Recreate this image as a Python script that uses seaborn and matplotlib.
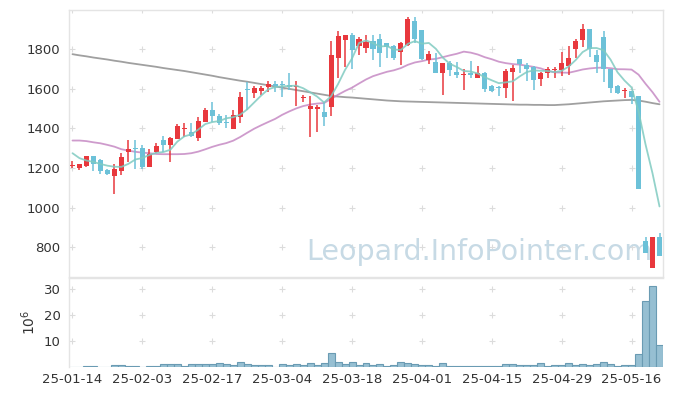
import numpy as np
import pandas as pd
import matplotlib
matplotlib.use("Agg")
import matplotlib.pyplot as plt
import seaborn as sns

# ---- data ----
opens = [1208, 1202, 1208, 1261, 1241, 1191, 1162, 1187, 1283, 1303,
         1302, 1207, 1283, 1342, 1317, 1349, 1396, 1384, 1354, 1435,
         1494, 1463, 1433, 1399, 1460, 1599, 1581, 1591, 1608, 1623,
         1620, 1618, 1608, 1556, 1497, 1497, 1485, 1510, 1758, 1847,
         1872, 1818, 1808, 1842, 1852, 1830, 1817, 1788, 1822, 1943,
         1897, 1746, 1736, 1682, 1729, 1686, 1669, 1680, 1657, 1682,
         1615, 1608, 1606, 1687, 1749, 1719, 1712, 1648, 1682, 1695,
         1695, 1716, 1800, 1847, 1901, 1771, 1864, 1699, 1615, 1589,
         1589, 1564, 832, 694, 851]
highs = [1238, 1222, 1263, 1263, 1248, 1196, 1221, 1275, 1342, 1342,
         1317, 1295, 1325, 1362, 1359, 1421, 1426, 1426, 1457, 1504,
         1531, 1473, 1467, 1494, 1586, 1632, 1616, 1615, 1640, 1640,
         1640, 1679, 1640, 1569, 1564, 1517, 1531, 1839, 1894, 1874,
         1884, 1864, 1872, 1872, 1876, 1832, 1820, 1834, 1965, 1965,
         1899, 1793, 1783, 1731, 1738, 1734, 1699, 1743, 1716, 1684,
         1617, 1612, 1699, 1721, 1751, 1729, 1716, 1687, 1712, 1709,
         1788, 1817, 1850, 1928, 1901, 1796, 1890, 1701, 1617, 1603,
         1591, 1566, 854, 854, 871]
lows = [1200, 1191, 1206, 1187, 1170, 1165, 1070, 1165, 1233, 1194,
        1194, 1205, 1278, 1283, 1229, 1349, 1359, 1359, 1339, 1435,
        1435, 1418, 1401, 1399, 1430, 1494, 1552, 1569, 1586, 1586,
        1561, 1595, 1515, 1531, 1356, 1384, 1413, 1463, 1653, 1712,
        1699, 1771, 1780, 1746, 1712, 1754, 1746, 1721, 1817, 1830,
        1745, 1724, 1680, 1569, 1665, 1653, 1595, 1657, 1653, 1586,
        1586, 1566, 1552, 1541, 1679, 1640, 1595, 1615, 1653, 1653,
        1665, 1670, 1754, 1813, 1763, 1682, 1637, 1578, 1574, 1552,
        1522, 1093, 770, 694, 756]
closes = [1213, 1221, 1261, 1221, 1187, 1170, 1194, 1258, 1297, 1298,
          1207, 1271, 1312, 1317, 1354, 1413, 1404, 1362, 1438, 1494,
          1463, 1430, 1430, 1468, 1557, 1596, 1605, 1605, 1623, 1615,
          1617, 1611, 1615, 1558, 1514, 1508, 1460, 1771, 1867, 1872,
          1797, 1850, 1837, 1800, 1783, 1813, 1758, 1830, 1953, 1850,
          1749, 1776, 1682, 1729, 1695, 1669, 1675, 1669, 1679, 1601,
          1591, 1603, 1690, 1704, 1726, 1701, 1645, 1679, 1699, 1699,
          1732, 1754, 1842, 1901, 1800, 1733, 1699, 1603, 1581, 1592,
          1561, 1093, 770, 851, 756]
volumes_m = [0.1, 0.1, 0.25, 0.25, 0.1, 0.1, 0.7, 0.7, 0.4, 0.4,
             0.1, 0.4, 0.4, 1.1, 1.1, 1.1, 0.4, 1.1, 1.1, 1.1,
             1.1, 1.5, 1.1, 0.7, 2.0, 1.1, 0.7, 0.7, 0.7, 0.1,
             1.1, 0.7, 1.1, 0.7, 1.5, 0.7, 1.5, 5.4, 2.0, 1.15,
             1.9, 0.77, 1.5, 0.9, 1.15, 0.38, 0.77, 2.05, 1.65, 1.15,
             0.77, 0.77, 0.38, 1.5, 0.38, 0.38, 0.38, 0.38, 0.38, 0.38,
             0.38, 0.38, 1.15, 1.15, 0.77, 0.77, 0.77, 1.5, 0.38, 0.77,
             0.77, 1.5, 0.77, 1.15, 0.77, 1.15, 1.9, 1.15, 0.38, 0.77,
             0.77, 5.0, 25.5, 31.2, 8.5]
# moving-average values before enough in-window history exists
ma5_head = [1275, 1250, 1238, 1231]
ma20_head = [1339, 1339, 1336, 1330, 1325, 1317, 1308, 1295, 1288, 1282,
             1278, 1275, 1271, 1270, 1270, 1270, 1271, 1275, 1283]
ma_long = [1775, 1769, 1764, 1758, 1753, 1748, 1742, 1737, 1731, 1726,
           1721, 1716, 1711, 1705, 1700, 1695, 1690, 1684, 1678, 1672,
           1666, 1659, 1653, 1647, 1641, 1636, 1630, 1624, 1618, 1612,
           1606, 1600, 1594, 1588, 1582, 1576, 1570, 1564, 1561, 1558,
           1556, 1553, 1550, 1547, 1544, 1541, 1539, 1537, 1536, 1535,
           1534, 1533, 1532, 1531, 1530, 1529, 1528, 1527, 1526, 1525,
           1524, 1523, 1522, 1521, 1520, 1520, 1519, 1519, 1518, 1518,
           1520, 1522, 1525, 1528, 1531, 1534, 1537, 1539, 1541, 1543,
           1544, 1541, 1535, 1528, 1522]
tick_labels = ['25-01-14', '25-02-03', '25-02-17', '25-03-04', '25-03-18',
               '25-04-01', '25-04-15', '25-04-29', '25-05-16']
price_ticks = [800, 1000, 1200, 1400, 1600, 1800]
vol_ticks = [10, 20, 30]

# ---- derived ----
n = len(closes)
idx = np.arange(n)
df = pd.DataFrame({'i': idx, 'open': opens, 'high': highs, 'low': lows,
                   'close': closes, 'vol': volumes_m})
ma5 = df['close'].rolling(5).mean().to_numpy()
ma5[:len(ma5_head)] = ma5_head
ma20 = df['close'].rolling(20).mean().to_numpy()
ma20[:len(ma20_head)] = ma20_head
df['ma5'] = ma5
df['ma20'] = ma20
df['malong'] = ma_long

sns.set_theme(style="white")
plt.rcParams['font.family'] = ['DejaVu Sans']

RED = '#e8383d'
BLUE = '#6cc1d8'
up = df['close'] >= df['open']
colors = np.where(up, RED, BLUE)

fig = plt.figure(figsize=(6.73, 3.96), dpi=100)
L, R = 69 / 673, 663 / 673
ax = fig.add_axes([L, 1 - 277 / 396, R - L, (277 - 10) / 396])
axv = fig.add_axes([L, 1 - 367 / 396, R - L, (367 - 278) / 396], sharex=ax)

# grid plus markers
tick_pos = np.arange(0, n, 10)[:len(tick_labels)]
gx, gy = np.meshgrid(tick_pos, price_ticks + [2000])
ax.scatter(gx.ravel(), gy.ravel(), marker='+', s=18, color='#dcdcdc',
           linewidths=0.8, zorder=0)
gx2, gy2 = np.meshgrid(tick_pos, vol_ticks)
axv.scatter(gx2.ravel(), gy2.ravel(), marker='+', s=18, color='#dcdcdc',
            linewidths=0.8, zorder=0)

# moving averages
sns.lineplot(data=df, x='i', y='malong', ax=ax, color='#8f8f8f', lw=1.3,
             alpha=0.85, zorder=2)
sns.lineplot(data=df, x='i', y='ma20', ax=ax, color='#c68ac4', lw=1.3,
             alpha=0.85, zorder=2)
# candles
ax.vlines(df['i'], df['low'], df['high'], colors=colors, lw=1.1, zorder=3)
body_low = np.minimum(df['open'], df['close'])
body_h = np.maximum(np.abs(df['close'] - df['open']), 5)
ax.bar(df['i'], body_h, bottom=body_low, width=0.72, color=colors, zorder=4,
       linewidth=0)
sns.lineplot(data=df, x='i', y='ma5', ax=ax, color='#80cbc1', lw=1.3,
             alpha=0.85, zorder=5)

ax.text(0.982, 0.095, 'Leopard.InfoPointer.com', transform=ax.transAxes,
        ha='right', va='center', fontsize=20.5, color='#c7dae5', zorder=1)

ax.set_xlim(-0.5, n - 0.5)
ax.set_ylim(650, 1998)
ax.set_yticks(price_ticks)
ax.set_yticklabels([str(v) for v in price_ticks])
ax.set_xlabel('')
ax.set_ylabel('')
ax.tick_params(axis='x', labelbottom=False, length=0)
ax.tick_params(axis='y', length=0, pad=6, labelsize=9.5, labelcolor='#333333')

# volume
sns.barplot(data=df, x='i', y='vol', ax=axv, native_scale=True, width=1.0,
            color='#96bfd2', edgecolor='#6a9bb3', linewidth=0.8, saturation=1)
axv.set_ylim(0, 34.2)
axv.set_yticks(vol_ticks)
axv.set_yticklabels([str(v) for v in vol_ticks])
axv.set_xticks(tick_pos)
axv.set_xticklabels(tick_labels)
axv.set_xlim(-0.5, n - 0.5)
axv.set_xlabel('')
axv.set_ylabel(r'$10^6$', fontsize=10, color='#333333', labelpad=4)
axv.tick_params(axis='both', length=0, labelsize=9.5, labelcolor='#333333')
axv.tick_params(axis='y', pad=6)
axv.tick_params(axis='x', pad=4)

for a in (ax, axv):
    for s in a.spines.values():
        s.set_color('#e4e4e4')
        s.set_linewidth(1)
axv.spines['bottom'].set_visible(False)
axv.spines['right'].set_visible(False)

fig.savefig('out.png', dpi=100)
